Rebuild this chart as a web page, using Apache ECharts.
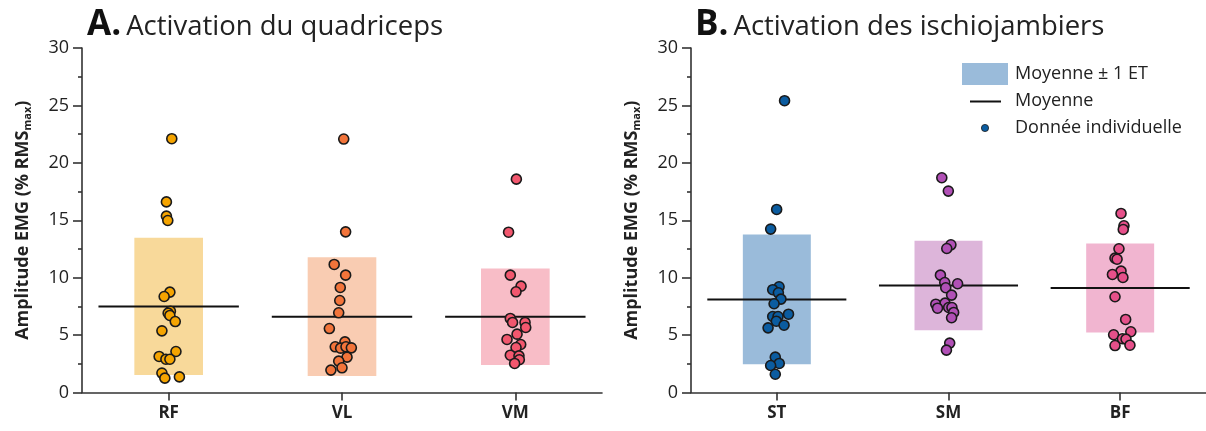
<!DOCTYPE html>
<html>
<head>
<meta charset="utf-8">
<script src="https://cdn.jsdelivr.net/npm/echarts@6/dist/echarts.min.js"></script>
<style>
html,body{margin:0;padding:0;background:#fff;}
#chart{width:1206px;height:431px;}
</style>
</head>
<body>
<div id="chart"></div>
<script>
// ---------- DATA ----------
const catsA = ['RF', 'VL', 'VM'];
const catsB = ['ST', 'SM', 'BF'];
const yTicks = [0, 5, 10, 15, 20, 25, 30];

// mean and standard deviation (% RMSmax)
const meanA = [7.5, 6.6, 6.6];
const sdA   = [5.97, 5.17, 4.2];
const meanB = [8.1, 9.32, 9.1];
const sdB   = [5.65, 3.89, 3.87];

// individual values
const valsRF = [22.1, 16.6, 15.36, 14.98, 8.74, 8.36, 7.08, 6.91, 6.71, 6.18, 5.37, 3.57, 3.14, 2.9, 2.9, 1.69, 1.25, 1.36];
const valsVL = [22.07, 13.99, 11.15, 10.22, 9.15, 8.01, 6.94, 5.57, 4.41, 3.98, 3.86, 3.98, 3.89, 3.08, 2.73, 2.15, 1.95];
const valsVM = [18.58, 13.96, 10.22, 9.26, 8.77, 6.45, 6.10, 6.10, 5.66, 5.08, 4.62, 4.18, 3.92, 3.25, 3.19, 2.85, 2.53];
const valsST = [25.41, 15.94, 14.23, 9.21, 8.95, 8.68, 8.13, 7.73, 6.82, 6.62, 6.62, 6.21, 5.86, 5.63, 3.08, 2.53, 2.35, 1.59];
const valsSM = [18.7, 17.54, 12.86, 12.54, 10.22, 9.58, 9.47, 9.12, 8.48, 7.69, 7.78, 7.34, 7.40, 7.40, 6.97, 6.51, 4.30, 3.69];
const valsBF = [15.59, 14.52, 14.20, 12.52, 11.70, 11.61, 10.57, 10.28, 10.02, 8.34, 6.36, 5.29, 5.03, 4.68, 4.65, 4.09, 4.12];

// horizontal jitter of each point (in category units)
const jitRF = [0.018, -0.013, -0.013, -0.005, 0.007, -0.026, 0.010, -0.003, 0.007, 0.038, -0.039, 0.042, -0.055, -0.016, 0.007, -0.039, -0.022, 0.062];
const jitVL = [0.010, 0.021, -0.045, 0.021, -0.010, -0.013, -0.019, -0.073, 0.017, -0.039, -0.008, 0.023, 0.054, 0.029, -0.019, 0, -0.064];
const jitVM = [0.006, -0.039, -0.029, 0.033, 0.004, -0.029, -0.016, 0.056, 0.060, 0.010, -0.048, 0.031, 0.004, -0.029, 0.021, 0.023, -0.004];
const jitST = [0.045, -0.001, -0.036, 0.013, -0.024, 0.009, 0.024, -0.016, 0.068, -0.024, 0.007, -0.003, 0.042, -0.051, -0.009, 0.014, -0.036, -0.009];
const jitSM = [-0.039, -0.001, 0.014, -0.010, -0.047, -0.022, 0.053, -0.016, 0.018, -0.074, -0.020, -0.064, 0.001, 0.020, 0.030, 0.018, 0.007, -0.012];
const jitBF = [0.005, 0.022, 0.018, -0.007, -0.030, -0.018, 0.005, -0.045, 0.016, -0.030, 0.032, 0.062, -0.038, 0.013, 0.034, -0.030, 0.057];

const legendLabels = ['Moyenne \u00b1 1 ET', 'Moyenne', 'Donn\u00e9e individuelle'];
const titleA = ['A.', 'Activation du quadriceps'];
const titleB = ['B.', 'Activation des ischiojambiers'];

// ---------- STYLE ----------
const FONT = 'Open Sans';
const TXT = '#222';
const AX = '#333';
const pointColors = { RF:'#F5A400', VL:'#F2743A', VM:'#F2576E', ST:'#0B5CA0', SM:'#B150B6', BF:'#E6508A' };
const bandColors  = { RF:'#F8D99A', VL:'#F9CCB2', VM:'#F8BDC7', ST:'#9ABBDA', SM:'#DDB5DA', BF:'#F1B5D0' };
const BAR_HALF = 0.198;
const LINE_HALF = 0.405;

const chart = echarts.init(document.getElementById('chart'), null, {renderer:'canvas'});

function yAxisDef(gi){
  return {
    type:'value', gridIndex: gi, min:0, max:30, interval:5,
    name:'Amplitude EMG (% RMS{sub|max})',
    nameLocation:'middle', nameGap:49, nameRotate:90,
    nameTextStyle:{ fontFamily:FONT, fontWeight:'bold', fontSize:18, color:TXT,
      rich:{ sub:{ fontFamily:FONT, fontWeight:'bold', fontSize:11, color:TXT, padding:[10,0,0,0] } } },
    axisLine:{show:true, lineStyle:{color:AX, width:1.6}},
    axisTick:{show:true, length:9, lineStyle:{color:AX, width:1.6}},
    minorTick:{show:true, splitNumber:2, length:4, lineStyle:{color:AX, width:1.6}},
    splitLine:{show:false},
    axisLabel:{fontFamily:FONT, fontSize:18, color:TXT, margin:13}
  };
}
function catAxisDef(gi, cats){
  return {
    type:'category', gridIndex: gi, data: cats, boundaryGap:true,
    axisLine:{show:true, lineStyle:{color:AX, width:1.6}},
    axisTick:{show:true, alignWithLabel:true, length:8, lineStyle:{color:AX, width:1.6}},
    axisLabel:{fontFamily:FONT, fontSize:17, fontWeight:'bold', color:TXT, margin:12},
    splitLine:{show:false}
  };
}
function valXAxisDef(gi){
  return { type:'value', gridIndex: gi, min:0.5, max:3.5, show:false };
}

function bandSeries(xi, yi, cats, means, sds){
  return {
    type:'custom', xAxisIndex:xi, yAxisIndex:yi, z:1, silent:true,
    data: cats.map((c,i)=>({ value:[i+1, means[i], sds[i]], itemStyle:{color:bandColors[c]} })),
    renderItem:function(params, api){
      const x = api.value(0), m = api.value(1), s = api.value(2);
      const p1 = api.coord([x-BAR_HALF, m+s]);
      const p2 = api.coord([x+BAR_HALF, m-s]);
      return { type:'rect', shape:{x:p1[0], y:p1[1], width:p2[0]-p1[0], height:p2[1]-p1[1]},
               style:{fill: api.visual('color')} };
    }
  };
}
function meanSeries(xi, yi, means){
  return {
    type:'custom', xAxisIndex:xi, yAxisIndex:yi, z:2, silent:true,
    data: means.map((m,i)=>[i+1, m]),
    renderItem:function(params, api){
      const x = api.value(0), m = api.value(1);
      const a = api.coord([x-LINE_HALF, m]);
      const b = api.coord([x+LINE_HALF, m]);
      return { type:'line', shape:{x1:a[0], y1:a[1], x2:b[0], y2:b[1]},
               style:{stroke:'#111', lineWidth:2} };
    }
  };
}
function pointSeries(xi, yi, idx, cat, vals, jit){
  return {
    type:'scatter', xAxisIndex:xi, yAxisIndex:yi, z:3, silent:true,
    symbol:'circle', symbolSize:10,
    itemStyle:{color:pointColors[cat], borderColor:'#1a1a1a', borderWidth:1.6, opacity:1},
    data: vals.map((v,i)=>[idx + jit[i], v])
  };
}

const series = [
  bandSeries(2, 0, catsA, meanA, sdA),
  bandSeries(3, 1, catsB, meanB, sdB),
  meanSeries(2, 0, meanA),
  meanSeries(3, 1, meanB),
  pointSeries(2, 0, 1, 'RF', valsRF, jitRF),
  pointSeries(2, 0, 2, 'VL', valsVL, jitVL),
  pointSeries(2, 0, 3, 'VM', valsVM, jitVM),
  pointSeries(3, 1, 1, 'ST', valsST, jitST),
  pointSeries(3, 1, 2, 'SM', valsSM, jitSM),
  pointSeries(3, 1, 3, 'BF', valsBF, jitBF)
];

function titleDef(parts, left){
  return {
    left: left, top: 3,
    text: '{a|' + parts[0] + '} {b|' + parts[1] + '}',
    textStyle:{ rich:{
      a:{fontFamily:FONT, fontWeight:'bold', fontSize:35, color:'#111'},
      b:{fontFamily:FONT, fontWeight:'normal', fontSize:27.5, color:'#222', padding:[3,0,0,0]}
    }}
  };
}

const option = {
  animation:false,
  backgroundColor:'#fff',
  title:[ titleDef(titleA, 82), titleDef(titleB, 690) ],
  grid:[
    {left:82, top:48, width:520, height:344.5, containLabel:false},
    {left:691, top:48, width:519, height:344.5, containLabel:false}
  ],
  xAxis:[ catAxisDef(0, catsA), catAxisDef(1, catsB), valXAxisDef(0), valXAxisDef(1) ],
  yAxis:[ yAxisDef(0), yAxisDef(1) ],
  series: series,
  graphic:[
    { type:'rect', shape:{x:962, y:63, width:46, height:22}, style:{fill:bandColors.ST} },
    { type:'line', shape:{x1:970, y1:101.5, x2:1001, y2:101.5}, style:{stroke:'#111', lineWidth:2} },
    { type:'circle', shape:{cx:985, cy:128, r:3.6}, style:{fill:pointColors.ST, stroke:'#1a1a1a', lineWidth:0.8} },
    { type:'text', x:1015, y:74, style:{text:legendLabels[0], font:'18px "Open Sans"', fill:TXT, textVerticalAlign:'middle', verticalAlign:'middle'} },
    { type:'text', x:1015, y:101, style:{text:legendLabels[1], font:'18px "Open Sans"', fill:TXT, textVerticalAlign:'middle', verticalAlign:'middle'} },
    { type:'text', x:1015, y:128, style:{text:legendLabels[2], font:'18px "Open Sans"', fill:TXT, textVerticalAlign:'middle', verticalAlign:'middle'} }
  ]
};
chart.setOption(option);
</script>
</body>
</html>
